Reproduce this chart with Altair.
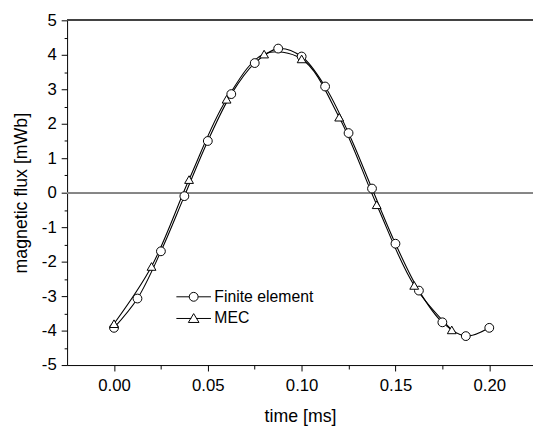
import altair as alt
import pandas as pd

# Finite element (circles)
fe_t = [0.0, 0.0125, 0.025, 0.0375, 0.05, 0.0625, 0.075, 0.0875, 0.1, 0.1125,
        0.125, 0.1375, 0.15, 0.1625, 0.175, 0.1875, 0.2]
fe_v = [-3.92, -3.07, -1.70, -0.10, 1.50, 2.86, 3.76, 4.18, 3.95, 3.08,
        1.73, 0.12, -1.48, -2.84, -3.76, -4.16, -3.92]

# MEC (triangles)
mec_t = [0.0, 0.02, 0.04, 0.06, 0.08, 0.1, 0.12, 0.14, 0.16, 0.18]
mec_v = [-3.80, -2.14, 0.38, 2.71, 4.02, 3.88, 2.19, -0.35, -2.69, -3.98]

series_names = ["Finite element", "MEC"]

x_major = [0.0, 0.05, 0.1, 0.15, 0.2]
x_minor = [0.025, 0.075, 0.125, 0.175]
y_major = [-5, -4, -3, -2, -1, 0, 1, 2, 3, 4, 5]
y_minor = [-4.5, -3.5, -2.5, -1.5, -0.5, 0.5, 1.5, 2.5, 3.5, 4.5]

x_domain = [-0.025, 0.2233]
y_domain = [-5, 5]

df = pd.concat([
    pd.DataFrame({"t": fe_t, "v": fe_v, "series": series_names[0]}),
    pd.DataFrame({"t": mec_t, "v": mec_v, "series": series_names[1]}),
], ignore_index=True)

FONT = "Liberation Sans"
xs = alt.Scale(domain=x_domain, nice=False, zero=False)
ys = alt.Scale(domain=y_domain, nice=False, zero=False)

x_axis = alt.Axis(values=x_major, format=".2f", title="time [ms]", orient="bottom",
                  tickSize=6, tickColor="black", domainColor="black", grid=False,
                  labelFontSize=17, titleFontSize=18, labelFont=FONT, titleFont=FONT,
                  labelColor="black", titleColor="black", titleFontWeight="normal",
                  labelPadding=7, titlePadding=14, labelFlush=False)
y_axis = alt.Axis(values=y_major, title="magnetic flux [mWb]", orient="left",
                  labelExpr="datum.value < 0 ? '-' + abs(datum.value) : '' + datum.value",
                  tickSize=6, tickColor="black", domainColor="black", grid=False,
                  labelFontSize=17, titleFontSize=18, labelFont=FONT, titleFont=FONT,
                  labelColor="black", titleColor="black", titleFontWeight="normal",
                  labelPadding=5, titlePadding=11, labelFlush=False)
x_axis_minor = alt.Axis(values=x_minor, orient="bottom", tickSize=4, tickColor="black",
                        labels=False, domain=False, grid=False, title=None)
y_axis_minor = alt.Axis(values=y_minor, orient="left", tickSize=3, tickColor="black",
                        labels=False, domain=False, grid=False, title=None)

base = alt.Chart(df)

zero_line = alt.Chart(df).mark_rule(color="#888888", strokeWidth=1).encode(
    y=alt.YDatum(0, scale=ys, axis=None)
)
top_line = alt.Chart(df).mark_rule(color="#444444", strokeWidth=1).encode(
    y=alt.YDatum(5, scale=ys, axis=None)
)

lines = base.mark_line(color="black", strokeWidth=1.1, interpolate="catmull-rom").encode(
    x=alt.X("t:Q", scale=xs, axis=x_axis),
    y=alt.Y("v:Q", scale=ys, axis=y_axis),
    detail="series:N",
)

points = base.mark_point(filled=False, color="black", fill="white", stroke="black",
                         strokeWidth=1, opacity=1, size=80).encode(
    x=alt.X("t:Q", scale=xs, axis=None),
    y=alt.Y("v:Q", scale=ys, axis=None),
    shape=alt.Shape("series:N", scale=alt.Scale(domain=series_names,
                                                range=["circle", "triangle-up"]),
                    legend=None),
)

circle_path = "M-3.9,0H-1A1,1 0 1,1 1,0A1,1 0 1,1 -1,0M1,0H3.9"
tri_path = "M-3.9,0H-0.55M0.55,0H3.9M0,-1.1L1.2,0.9L-1.2,0.9Z"

# legend-only layer: rows filtered away, the legend comes from the fixed shape domain
legend_layer = base.transform_filter("datum.t > 100").mark_point(
    filled=False, color="black", stroke="black", strokeWidth=1, opacity=1
).encode(
    x=alt.X("t:Q", scale=xs, axis=x_axis_minor),
    y=alt.Y("v:Q", scale=ys, axis=y_axis_minor),
    shape=alt.Shape("series:N", scale=alt.Scale(domain=series_names,
                                                range=[circle_path, tri_path]),
                    legend=alt.Legend(title=None, orient="none", legendX=120.5, legendY=272.7,
                                      symbolSize=81, symbolStrokeColor="black",
                                      symbolFillColor="white", symbolStrokeWidth=1,
                                      labelFontSize=16, labelFont=FONT,
                                      labelColor="black", labelOffset=13, rowPadding=6,
                                      padding=0)),
)

chart = alt.layer(zero_line, top_line, lines, points, legend_layer).resolve_axis(
    x="independent", y="independent"
).resolve_scale(shape="independent").properties(
    width=473, height=350,
    padding={"left": 60, "top": 9.3, "right": 0, "bottom": 62},
    autosize="none",
    background="white",
).configure_view(stroke=None)

chart.save("out.html", embed_options={"renderer": "svg", "actions": False})
